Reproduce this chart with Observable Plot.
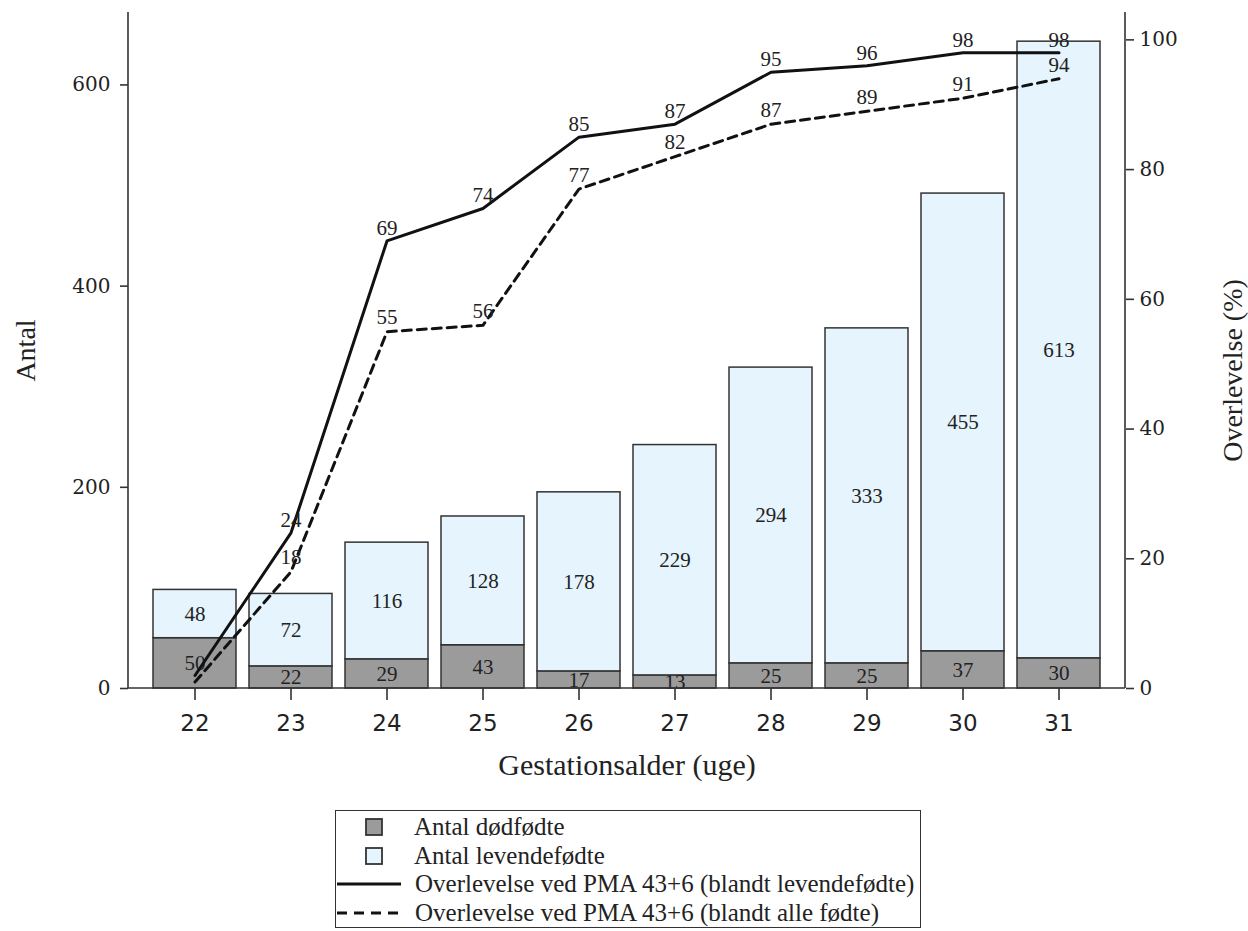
<!DOCTYPE html>
<html>
<head>
<meta charset="utf-8">
<script src="https://cdn.jsdelivr.net/npm/d3@7"></script>
<script src="https://cdn.jsdelivr.net/npm/@observablehq/plot@0.6"></script>
<style>
  body { margin: 0; background: #fff; }
  #legend {
    margin: 10px 0 0 335px; width: 586px; height: 118px;
    border: 1.5px solid #333; box-sizing: border-box;
    font-family: "Liberation Serif", serif; font-size: 25px; color: #222;
    padding-top: 2px;
  }
  .row { display: flex; align-items: center; height: 28.5px; line-height: 28px; }
  .sym { width: 75px; display: flex; justify-content: center; align-items: center; }
  .sym.line { justify-content: flex-start; padding-left: 1px; }
  .txt { margin-left: 3px; white-space: nowrap; }
</style>
</head>
<body>
<div id="chart"></div>
<div id="legend"></div>
<script>
const weeks = [22, 23, 24, 25, 26, 27, 28, 29, 30, 31];
const stillborn = [50, 22, 29, 43, 17, 13, 25, 25, 37, 30];
const liveborn = [48, 72, 116, 128, 178, 229, 294, 333, 455, 613];
const survLive = [2, 24, 69, 74, 85, 87, 95, 96, 98, 98];
const survAll = [1, 18, 55, 56, 77, 82, 87, 89, 91, 94];
const rightTicks = [0, 20, 40, 60, 80, 100];

const colDead = "#9b9b9b";
const colLive = "#e5f4fd";
const k = 6.448; // % -> count units for the secondary axis

const bars = [];
weeks.forEach((w, i) => {
  bars.push({week: w, type: "dead", y1: 0, y2: stillborn[i], v: stillborn[i]});
  bars.push({week: w, type: "live", y1: stillborn[i], y2: stillborn[i] + liveborn[i], v: liveborn[i]});
});
const lineLive = weeks.map((w, i) => ({week: w, p: survLive[i]}));
const lineAll = weeks.map((w, i) => ({week: w, p: survAll[i]}));

const axisLines = (index, scales, values, dims) => {
  const ns = "http://www.w3.org/2000/svg";
  const g = document.createElementNS(ns, "g");
  const x0 = dims.marginLeft, x1 = dims.width - dims.marginRight;
  const y0 = dims.marginTop, y1 = dims.height - dims.marginBottom;
  for (const [a, b, c, d] of [[x0, y0, x0, y1], [x1, y0, x1, y1], [x0, y1, x1, y1]]) {
    const l = document.createElementNS(ns, "line");
    l.setAttribute("x1", a); l.setAttribute("y1", b);
    l.setAttribute("x2", c); l.setAttribute("y2", d);
    l.setAttribute("stroke", "#333"); l.setAttribute("stroke-width", 1.6);
    g.appendChild(l);
  }
  return g;
};

const serif = "Liberation Serif";

const chart = Plot.plot({
  width: 1248,
  height: 800,
  marginLeft: 128,
  marginRight: 123,
  marginTop: 12,
  marginBottom: 112,
  style: {background: "#fff"},
  x: {type: "band", domain: weeks, paddingInner: 0.14, paddingOuter: 0.22},
  y: {domain: [0, 672]},
  marks: [
    Plot.rectY(bars, {
      x: "week", y1: "y1", y2: "y2",
      fill: d => d.type === "dead" ? colDead : colLive,
      stroke: "#333", strokeWidth: 1.5
    }),
    Plot.text(bars, {
      x: "week", y: d => (d.y1 + d.y2) / 2, text: "v",
      fontFamily: serif, fontSize: 21, fill: "#222"
    }),
    Plot.line(lineLive, {x: "week", y: d => d.p * k, stroke: "#111", strokeWidth: 3}),
    Plot.line(lineAll, {x: "week", y: d => d.p * k, stroke: "#111", strokeWidth: 3, strokeDasharray: "9,6"}),
    Plot.text(lineLive.slice(1), {
      x: "week", y: d => d.p * k, text: "p", dy: -13,
      fontFamily: serif, fontSize: 21, fill: "#222"
    }),
    Plot.text(lineAll.slice(1), {
      x: "week", y: d => d.p * k, text: "p", dy: -14,
      fontFamily: serif, fontSize: 21, fill: "#222"
    }),
    axisLines,
    Plot.axisX({
      anchor: "bottom", tickSize: 12, tickPadding: 14, tickFormat: d => String(d),
      fontFamily: "DejaVu Sans", fontSize: 23, stroke: "#333", strokeWidth: 1.6,
      color: "#222", label: null
    }),
    Plot.axisY({
      anchor: "left", ticks: [0, 200, 400, 600], tickSize: 8, tickPadding: 10,
      fontFamily: "DejaVu Serif", fontSize: 20, stroke: "#333", strokeWidth: 1.6,
      color: "#222", label: null
    }),
    Plot.axisY({
      anchor: "right", ticks: rightTicks.map(v => v * k), tickSize: 8, tickPadding: 6,
      tickFormat: d => String(Math.round(d / k)),
      fontFamily: "DejaVu Serif", fontSize: 20, stroke: "#333", strokeWidth: 1.6,
      color: "#222", label: null
    }),
    Plot.text(["Gestationsalder (uge)"], {
      frameAnchor: "bottom", dy: 86, textAnchor: "middle",
      fontFamily: serif, fontSize: 30, fill: "#222"
    }),
    Plot.text(["Antal"], {
      frameAnchor: "left", dx: -102, rotate: -90, textAnchor: "middle",
      fontFamily: serif, fontSize: 28, fill: "#222"
    }),
    Plot.text(["Overlevelse (%)"], {
      frameAnchor: "right", dx: 108, dy: 20, rotate: -90, textAnchor: "middle",
      fontFamily: serif, fontSize: 28, fill: "#222"
    })
  ]
});
document.getElementById("chart").appendChild(chart);

// legend
const legendItems = [
  {kind: "swatch", fill: colDead, label: "Antal dødfødte"},
  {kind: "swatch", fill: colLive, label: "Antal levendefødte"},
  {kind: "line", dash: null, label: "Overlevelse ved PMA 43+6 (blandt levendefødte)"},
  {kind: "line", dash: "10,7", label: "Overlevelse ved PMA 43+6 (blandt alle fødte)"}
];
const leg = document.getElementById("legend");
for (const it of legendItems) {
  const row = document.createElement("div"); row.className = "row";
  const sym = document.createElement("div"); sym.className = "sym" + (it.kind === "line" ? " line" : "");
  if (it.kind === "swatch") {
    sym.innerHTML = `<svg width="18" height="18"><rect x="1" y="1" width="16" height="16" fill="${it.fill}" stroke="#333" stroke-width="1.8"/></svg>`;
  } else {
    sym.innerHTML = `<svg width="64" height="6"><line x1="0" y1="3" x2="64" y2="3" stroke="#111" stroke-width="3" ${it.dash ? `stroke-dasharray="${it.dash}"` : ""}/></svg>`;
  }
  const txt = document.createElement("div"); txt.className = "txt"; txt.textContent = it.label;
  row.appendChild(sym); row.appendChild(txt); leg.appendChild(row);
}
</script>
</body>
</html>
